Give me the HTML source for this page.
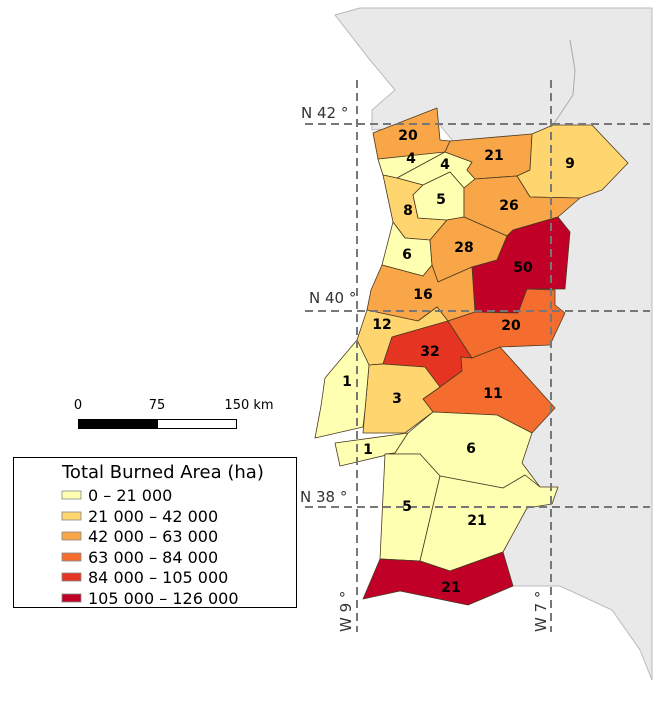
<!DOCTYPE html>
<html><head><meta charset="utf-8"><style>
html,body{margin:0;padding:0;background:#fff;}
svg{display:block;font-family:"DejaVu Sans","Liberation Sans",sans-serif;}
</style></head><body>
<svg width="660" height="702" viewBox="0 0 660 702" xmlns="http://www.w3.org/2000/svg">
<polygon points="335,15 360,8 652,8 652,680 640,650 612,610 560,586 513,586 480,520 470,420 470,300 460,150 440,125 372,130 372,110 395,90 370,60" fill="#e9e9ea" stroke="#bbb" stroke-width="1"/>
<polyline points="570,40 575,70 573,95 553,125" fill="none" stroke="#aaa" stroke-width="1"/>
<g stroke="#4a3a20" stroke-width="0.8" stroke-linejoin="round">
<polygon fill="#f9a648" points="373,133 437,108 440,140 450,141 445,152 383,175 378,159"/>
<polygon fill="#ffffb2" points="378,159 445,152 397,178 383,175"/>
<polygon fill="#ffffb2" points="445,152 472,162 467,170 475,179 464,188 450,172 423,185 397,178"/>
<polygon fill="#f9a648" points="450,141 532,134 530,170 517,176 475,179 467,170 472,162 445,152"/>
<polygon fill="#fed56e" points="532,134 553,125 592,125 628,163 602,190 580,198 530,197 517,176 530,170"/>
<polygon fill="#fed56e" points="383,175 397,178 423,185 413,195 418,218 447,220 430,240 405,238 393,222"/>
<polygon fill="#ffffb2" points="423,185 450,172 464,188 464,217 447,220 418,218 413,195"/>
<polygon fill="#f9a648" points="475,179 517,176 530,197 580,198 558,217 513,230 507,236 464,217 464,188"/>
<polygon fill="#ffffb2" points="393,222 405,238 430,240 432,265 423,276 382,265"/>
<polygon fill="#f9a648" points="447,220 464,217 507,236 497,260 472,267 438,282 432,265 430,240"/>
<polygon fill="#c00026" points="507,236 513,230 558,217 570,232 565,289 527,289 518,313 475,312 472,267 497,260"/>
<polygon fill="#f9a648" points="382,265 423,276 432,265 438,282 472,267 475,312 448,321 437,307 418,321 367,310 371,290"/>
<polygon fill="#fed56e" points="367,310 418,321 437,307 448,321 392,337 383,364 369,365 357,340"/>
<polygon fill="#e63423" points="448,321 472,358 461,357 462,371 440,387 425,367 383,364 392,337"/>
<polygon fill="#f46d2f" points="448,321 475,312 518,313 527,289 555,290 555,305 565,313 550,345 500,347 472,358"/>
<polygon fill="#f46d2f" points="472,358 500,347 555,408 532,433 497,415 433,412 423,399 440,387 462,371 461,357"/>
<polygon fill="#fed56e" points="369,365 383,364 425,367 440,387 423,399 433,412 405,433 363,433 365,410"/>
<polygon fill="#ffffb2" points="357,340 369,365 365,410 363,427 315,438 321,406 325,378"/>
<polygon fill="#ffffb2" points="335,443 408,433 395,453 340,466"/>
<polygon fill="#ffffb2" points="408,433 433,412 497,415 532,433 522,463 540,487 525,475 503,488 440,476 420,454 385,454 395,453"/>
<polygon fill="#ffffb2" points="385,454 420,454 440,476 420,561 380,559"/>
<polygon fill="#ffffb2" points="440,476 503,488 525,475 540,487 558,487 552,504 527,508 503,552 450,571 420,561"/>
<polygon fill="#c00026" points="380,559 420,561 450,571 503,552 513,586 468,605 400,591 363,599"/>
</g>
<g stroke="#777" stroke-width="2" stroke-dasharray="8,5" fill="none">
<line x1="305" y1="124" x2="650" y2="124"/>
<line x1="305" y1="311" x2="650" y2="311"/>
<line x1="305" y1="507" x2="650" y2="507"/>
<line x1="357" y1="80" x2="357" y2="632"/>
<line x1="551" y1="80" x2="551" y2="632"/>
</g>
<g font-size="15" fill="#333">
<text x="301" y="118">N 42 °</text>
<text x="309" y="303">N 40 °</text>
<text x="300" y="502">N 38 °</text>
<text transform="translate(351,632) rotate(-90)">W 9 °</text>
<text transform="translate(546,632) rotate(-90)">W 7 °</text>
</g>
<g font-size="14" font-weight="bold" fill="#000" text-anchor="middle">
<text x="408" y="140">20</text><text x="411" y="163">4</text><text x="445" y="169">4</text>
<text x="494" y="160">21</text><text x="570" y="168">9</text><text x="408" y="215">8</text>
<text x="441" y="204">5</text><text x="509" y="210">26</text><text x="407" y="259">6</text>
<text x="464" y="252">28</text><text x="523" y="272">50</text><text x="423" y="299">16</text>
<text x="382" y="329">12</text><text x="430" y="356">32</text><text x="511" y="330">20</text>
<text x="493" y="398">11</text><text x="397" y="403">3</text><text x="347" y="386">1</text>
<text x="368" y="454">1</text><text x="471" y="453">6</text><text x="407" y="511">5</text>
<text x="477" y="525">21</text><text x="451" y="592">21</text>
</g>
<g font-size="13" fill="#000">
<text x="78" y="409" text-anchor="middle">0</text>
<text x="157" y="409" text-anchor="middle">75</text>
<text x="249" y="409" text-anchor="middle">150 km</text>
</g>
<rect x="78" y="419" width="80" height="10" fill="#000"/>
<rect x="78.5" y="419.5" width="158" height="9" fill="none" stroke="#000"/>
<rect x="13.5" y="457.5" width="283" height="150" fill="#fff" stroke="#000"/>
<text x="62" y="478" font-size="18" fill="#000">Total Burned Area (ha)</text>
<g stroke="#888" stroke-width="0.8">
<rect x="62" y="491" width="19" height="8" fill="#ffffb2"/>
<rect x="62" y="512" width="19" height="8" fill="#fed56e"/>
<rect x="62" y="532" width="19" height="8" fill="#f9a648"/>
<rect x="62" y="553" width="19" height="8" fill="#f46d2f"/>
<rect x="62" y="573" width="19" height="8" fill="#e63423"/>
<rect x="62" y="594" width="19" height="8" fill="#c00026"/>
</g>
<g font-size="16" fill="#000">
<text x="88" y="501">0 – 21 000</text>
<text x="88" y="522">21 000 – 42 000</text>
<text x="88" y="542">42 000 – 63 000</text>
<text x="88" y="563">63 000 – 84 000</text>
<text x="88" y="583">84 000 – 105 000</text>
<text x="88" y="604">105 000 – 126 000</text>
</g>
</svg>
</body></html>
